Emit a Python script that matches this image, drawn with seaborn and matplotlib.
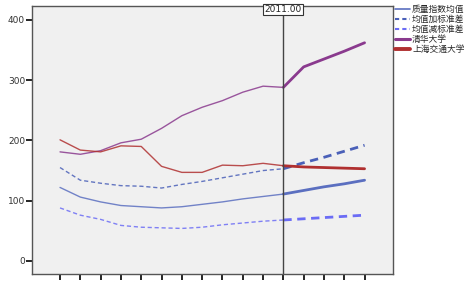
import numpy as np
import pandas as pd
import seaborn as sns
import matplotlib.pyplot as plt
from matplotlib.lines import Line2D

# data
years = list(range(2000, 2016))
mean_q = [122, 106, 98, 92, 90, 88, 90, 94, 98, 103, 107, 111, 117, 123, 128, 134]
mean_plus = [155, 134, 129, 125, 124, 121, 127, 132, 138, 144, 150, 153, 163, 172, 182, 192]
mean_minus = [88, 76, 69, 59, 56, 55, 54, 56, 60, 63, 66, 68, 70, 72, 74, 76]
tsinghua = [181, 177, 183, 196, 202, 220, 241, 255, 266, 280, 290, 288, 322, 335, 348, 362]
sjtu = [201, 184, 181, 191, 190, 157, 147, 147, 159, 158, 162, 158, 156, 155, 154, 153]
labels = ["质量指数均值", "均值加标准差", "均值减标准差", "清华大学", "上海交通大学"]
cut_year = 2011

sns.set_style("white")
plt.rcParams['font.family'] = ['Noto Sans CJK SC', 'DejaVu Sans']

df = pd.DataFrame({"year": years, labels[0]: mean_q, labels[1]: mean_plus,
                   labels[2]: mean_minus, labels[3]: tsinghua, labels[4]: sjtu})
long = df.melt(id_vars="year", var_name="series", value_name="value")

styles = {
    labels[0]: dict(color="#5b6fc0", ls="-"),
    labels[1]: dict(color="#4a60b8", ls=(0, (3, 2))),
    labels[2]: dict(color="#6b6cf5", ls=(0, (3, 2))),
    labels[3]: dict(color="#8a3a8e", ls="-"),
    labels[4]: dict(color="#b03030", ls="-"),
}

fig = plt.figure(figsize=(4.71, 2.82), dpi=100)
ax = fig.add_axes([32 / 471, 8 / 282, 361 / 471, 268 / 282])
ax.set_facecolor("#f0f0f0")

for name, st in styles.items():
    d = long[long.series == name]
    before = d[d.year <= cut_year]
    after = d[d.year >= cut_year]
    sns.lineplot(data=before, x="year", y="value", ax=ax, color=st["color"],
                 linestyle=st["ls"], lw=1.0, alpha=0.85)
    sns.lineplot(data=after, x="year", y="value", ax=ax, color=st["color"],
                 linestyle=st["ls"], lw=2.0)

ax.axvline(cut_year, color="#444444", lw=1.0)
ax.text(cut_year, 417, "2011.00", ha="center", va="center", fontsize=6.5,
        family="DejaVu Sans", color="#222222",
        bbox=dict(boxstyle="square,pad=0.15", fc="white", ec="#333333", lw=0.8))

ax.set_xlim(2000 - 1.38, 2015 + 1.4)
ax.set_ylim(-21.6, 423)
ax.set_yticks([0, 100, 200, 300, 400])
ax.set_yticklabels(["0", "100", "200", "300", "400"], fontsize=6.5,
                   family="DejaVu Sans", color="#333333")
ax.set_xticks(years)
ax.set_xticklabels([f"{y}.00" for y in years], rotation=45, ha="right",
                   fontsize=6.5, family="DejaVu Sans")
ax.tick_params(axis="both", direction="out", length=4, width=1.2, color="black",
               left=True, bottom=True, pad=1)
ax.set_xlabel("")
ax.set_ylabel("")
for s in ax.spines.values():
    s.set_color("#555555")
    s.set_linewidth(1.0)

handles = [
    Line2D([], [], color=styles[labels[0]]["color"], lw=1.2, ls="-"),
    Line2D([], [], color=styles[labels[1]]["color"], lw=1.5, ls=(0, (2, 1.5))),
    Line2D([], [], color=styles[labels[2]]["color"], lw=1.5, ls=(0, (2, 1.5))),
    Line2D([], [], color=styles[labels[3]]["color"], lw=2.2),
    Line2D([], [], color=styles[labels[4]]["color"], lw=2.8),
]
fig.legend(handles, labels, loc="upper left", bbox_to_anchor=(395 / 471, 0.982),
           frameon=False, fontsize=6.3, handlelength=1.7, handletextpad=0.25,
           labelspacing=0.1, borderaxespad=0, borderpad=0)

fig.savefig("out.png", dpi=100)
